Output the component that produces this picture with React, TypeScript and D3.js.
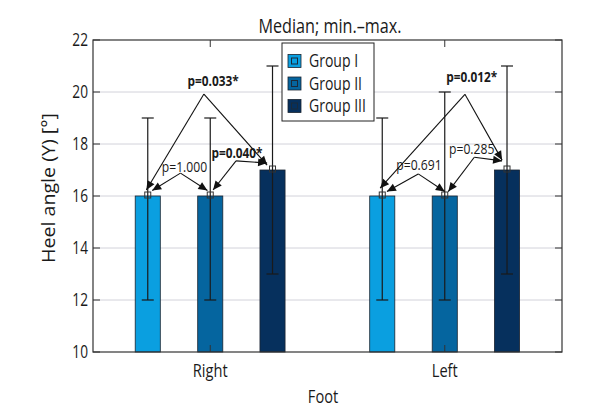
import React from "react";
import * as d3 from "d3";

const categories = ["Right", "Left"];
const groups = ["Group I", "Group II", "Group III"];
const colors = ["#0a9fe0", "#05659f", "#06305d"];
// medians, mins, maxes per category (rows) x group (cols)
const medians = [
  [16, 16, 17],
  [16, 16, 17],
];
const mins = [
  [12, 12, 13],
  [12, 12, 13],
];
const maxs = [
  [19, 19, 21],
  [19, 20, 21],
];
const yTicks = [10, 12, 14, 16, 18, 20, 22];

// p-value comparisons: category, groups compared, label, bold, apex (dx, y), text (dx, y), tips
const comparisons = [
  { cat: 0, a: 0, b: 1, label: "p=1.000", bold: false, apexDx: -0.127, apexY: 16.88, textDx: -0.11, textY: 16.93, tipADx: 0.019, tipAY: 16.21, tipBDx: -0.012, tipBY: 16.21 },
  { cat: 0, a: 0, b: 2, label: "p=0.033*", bold: true, apexDx: -0.027, apexY: 19.92, textDx: 0.012, textY: 20.23, tipADx: -0.006, tipAY: 16.23, tipBDx: -0.023, tipBY: 17.19 },
  { cat: 0, a: 1, b: 2, label: "p=0.040*", bold: true, apexDx: 0.11, apexY: 17.35, textDx: 0.114, textY: 17.46, tipADx: 0.012, tipAY: 16.23, tipBDx: -0.023, tipBY: 17.27 },
  { cat: 1, a: 0, b: 1, label: "p=0.691", bold: false, apexDx: -0.113, apexY: 16.85, textDx: -0.11, textY: 17.0, tipADx: 0.02, tipAY: 16.17, tipBDx: 0.0, tipBY: 16.17 },
  { cat: 1, a: 0, b: 2, label: "p=0.012*", bold: true, apexDx: 0.086, apexY: 19.91, textDx: 0.115, textY: 20.4, tipADx: -0.009, tipAY: 16.3, tipBDx: -0.021, tipBY: 17.38 },
  { cat: 1, a: 1, b: 2, label: "p=0.285", bold: false, apexDx: 0.126, apexY: 17.49, textDx: 0.115, textY: 17.62, tipADx: 0.015, tipAY: 16.17, tipBDx: -0.021, tipBY: 17.35 },
];

const FONT = "'Open Sans', 'Noto Sans', sans-serif";

const W = 600;
const H = 420;
const left = 93;
const right = 562;
const top = 40;
const bottom = 352;

type TProps = {
  x: number;
  y: number;
  size: number;
  sx?: number;
  anchor?: "start" | "middle" | "end";
  weight?: string;
  dy?: string;
  children: React.ReactNode;
};

function T({ x, y, size, sx = 0.78, anchor = "start", weight = "normal", dy, children }: TProps) {
  return (
    <text
      transform={`translate(${x},${y}) scale(${sx},1)`}
      textAnchor={anchor}
      fontSize={size}
      fontWeight={weight}
      dy={dy}
      fill="#1a1a1a"
    >
      {children}
    </text>
  );
}

export default function App() {
  const x = d3.scaleLinear().domain([0.5, 2.5]).range([left, right]);
  const y = d3.scaleLinear().domain([10, 22]).range([bottom, top]);
  const groupOffset = [-0.2665, 0, 0.2655];
  const barW = x(0.107) - x(0);
  const capW = 12;
  const gx = (c: number, g: number) => x(c + 1 + groupOffset[g]);

  const arrowHead = (x1: number, y1: number, x2: number, y2: number) => {
    const ang = Math.atan2(y2 - y1, x2 - x1);
    const L = 9;
    const Wd = 4;
    const bx = x2 - L * Math.cos(ang);
    const by = y2 - L * Math.sin(ang);
    const px = -Math.sin(ang) * Wd;
    const py = Math.cos(ang) * Wd;
    return `M${x2},${y2}L${bx + px},${by + py}L${bx - px},${by - py}Z`;
  };

  return (
    <svg width={W} height={H} style={{ position: "absolute", left: 0, top: 0, background: "#fff" }} fontFamily={FONT}>
      <rect x={0} y={0} width={W} height={H} fill="#fff" />
      {/* gridlines */}
      {yTicks.slice(1, -1).map((t) => (
        <line key={"g" + t} x1={left} x2={right} y1={y(t)} y2={y(t)} stroke="#d2d2da" strokeWidth={1} />
      ))}
      {/* bars */}
      {categories.map((c, ci) =>
        groups.map((g, gi) => (
          <rect
            key={c + g}
            x={gx(ci, gi) - barW / 2}
            y={y(medians[ci][gi])}
            width={barW}
            height={y(10) - y(medians[ci][gi])}
            fill={colors[gi]}
            stroke="#1b2430"
            strokeWidth={0.8}
          />
        ))
      )}
      {/* error bars */}
      {categories.map((c, ci) =>
        groups.map((g, gi) => {
          const cx = gx(ci, gi);
          return (
            <g key={"e" + c + g} stroke="#1a1a1a" strokeWidth={1.2}>
              <line x1={cx} x2={cx} y1={y(mins[ci][gi])} y2={y(maxs[ci][gi])} />
              <line x1={cx - capW / 2} x2={cx + capW / 2} y1={y(mins[ci][gi])} y2={y(mins[ci][gi])} />
              <line x1={cx - capW / 2} x2={cx + capW / 2} y1={y(maxs[ci][gi])} y2={y(maxs[ci][gi])} />
              <rect x={cx - 3} y={y(medians[ci][gi]) - 4} width={6} height={6} fill="none" stroke="#333" strokeWidth={1} />
            </g>
          );
        })
      )}
      {/* axes box */}
      <rect x={left} y={top} width={right - left} height={bottom - top} fill="none" stroke="#333" strokeWidth={1.2} />
      {yTicks.map((t) => (
        <g key={"t" + t}>
          <line x1={left} x2={left + 7} y1={y(t)} y2={y(t)} stroke="#333" strokeWidth={1} />
          <line x1={right} x2={right - 7} y1={y(t)} y2={y(t)} stroke="#333" strokeWidth={1} />
          <T x={left - 5} y={y(t)} size={18} sx={0.76} anchor="end" dy="0.36em">
            {t}
          </T>
        </g>
      ))}
      {categories.map((c, ci) => (
        <g key={"x" + c}>
          <line x1={x(ci + 1)} x2={x(ci + 1)} y1={bottom} y2={bottom - 7} stroke="#333" strokeWidth={1} />
          <line x1={x(ci + 1)} x2={x(ci + 1)} y1={top} y2={top + 7} stroke="#333" strokeWidth={1} />
          <T x={x(ci + 1)} y={377} size={19} sx={0.77} anchor="middle">
            {c}
          </T>
        </g>
      ))}
      {/* comparisons */}
      {comparisons.map((cmp, i) => {
        const ax = x(cmp.cat + 1 + cmp.apexDx);
        const ay = y(cmp.apexY);
        const t1x = gx(cmp.cat, cmp.a) + (x(cmp.tipADx) - x(0));
        const t1y = y(cmp.tipAY);
        const t2x = gx(cmp.cat, cmp.b) + (x(cmp.tipBDx) - x(0));
        const t2y = y(cmp.tipBY);
        return (
          <g key={"c" + i}>
            <line x1={ax} y1={ay} x2={t1x} y2={t1y} stroke="#111" strokeWidth={1.1} />
            <line x1={ax} y1={ay} x2={t2x} y2={t2y} stroke="#111" strokeWidth={1.1} />
            <path d={arrowHead(ax, ay, t1x, t1y)} fill="#111" />
            <path d={arrowHead(ax, ay, t2x, t2y)} fill="#111" />
            <T
              x={x(cmp.cat + 1 + cmp.textDx)}
              y={y(cmp.textY)}
              size={15}
              sx={cmp.bold ? 0.79 : 0.81}
              anchor="middle"
              weight={cmp.bold ? "bold" : "normal"}
            >
              {cmp.label}
            </T>
          </g>
        );
      })}
      {/* legend */}
      <g>
        <rect x={282} y={43} width={92} height={78} fill="#fff" stroke="#222" strokeWidth={1} />
        {groups.map((g, gi) => {
          const cy = 61 + gi * 22.5;
          return (
            <g key={"l" + g}>
              <rect x={288} y={cy - 6.5} width={13} height={13} fill={colors[gi]} stroke="#1b2430" strokeWidth={0.8} />
              <rect x={291.5} y={cy - 3} width={6} height={6} fill="none" stroke="#1b2a3a" strokeWidth={1} />
              <T x={309} y={cy} size={18} sx={0.78} dy="0.36em">
                {g}
              </T>
            </g>
          );
        })}
      </g>
      {/* titles */}
      <T x={330} y={33} size={20} sx={0.81} anchor="middle">
        Median; min.–max.
      </T>
      <T x={323} y={403} size={19} sx={0.77} anchor="middle">
        Foot
      </T>
      <text
        transform={`translate(55,188) rotate(-90)`}
        textAnchor="middle"
        fontSize={18.5}
        textLength={150}
        lengthAdjust="spacingAndGlyphs"
        fill="#1a1a1a"
      >
        Heel angle (Y) [°]
      </text>
    </svg>
  );
}
